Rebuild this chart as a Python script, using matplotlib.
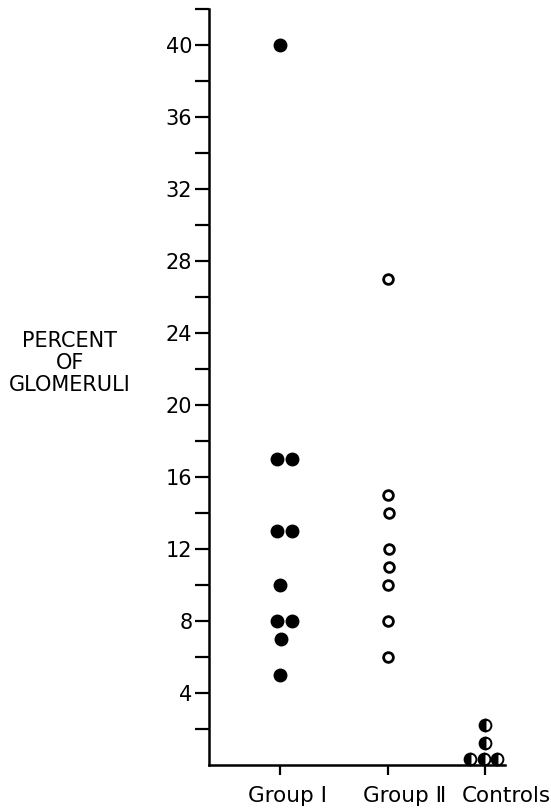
import matplotlib.pyplot as plt
import matplotlib.transforms as mtransforms

# values (percent of glomeruli)
group1_vals = [40, 17, 17, 13, 13, 10, 8, 8, 7, 5]
group1_dx = [0, -0.03, 0.11, -0.03, 0.11, 0, -0.03, 0.11, 0.01, 0]
group2_vals = [27, 15, 14, 12, 11, 10, 8, 6]
group2_dx = [0, 0, 0.01, 0.01, 0.01, 0, 0, 0]
control_vals = [2.2, 1.2, 0.35, 0.35, 0.35]
control_dx = [0, 0, -0.14, -0.01, 0.11]

group_pos = [1.0, 2.0, 2.9]
group_labels = ["Group \u2160", "Group \u2161", "Controls"]
label_shift = [8, 17, 21]  # px, labels sit right of the ticks in the original

plt.rcParams["font.family"] = ["DejaVu Sans"]

fig = plt.figure(figsize=(5.51, 8.08), dpi=100)
ax = fig.add_axes([209 / 551, 43 / 808, 296 / 551, 756 / 808])

ax.plot([group_pos[0] + d for d in group1_dx], group1_vals, "o",
        color="black", markersize=9, clip_on=False)
ax.plot([group_pos[1] + d for d in group2_dx], group2_vals, "o",
        markerfacecolor="white", markeredgecolor="black",
        markeredgewidth=2, markersize=7, clip_on=False)
ax.plot([group_pos[2] + d for d in control_dx], control_vals, "o",
        fillstyle="left", markerfacecolor="black", markerfacecoloralt="white",
        markeredgecolor="black", markeredgewidth=1.4, markersize=8.5, clip_on=False)

ax.set_xlim(0.343, 3.085)
ax.set_ylim(0, 42)

ax.set_yticks(range(4, 41, 4))
ax.set_yticks(range(2, 43, 2), minor=True)
ax.tick_params(axis="y", which="both", direction="out", length=10, width=1.6,
               labelsize=15, pad=2)
ax.set_xticks(group_pos)
ax.set_xticklabels(group_labels, fontsize=15.5)
ax.tick_params(axis="x", direction="out", length=7, width=1.6, pad=8)
for lab, s in zip(ax.get_xticklabels(), label_shift):
    lab.set_transform(lab.get_transform() +
                      mtransforms.ScaledTranslation(s / 100, 0, fig.dpi_scale_trans))

for side in ("top", "right"):
    ax.spines[side].set_visible(False)
for side in ("left", "bottom"):
    ax.spines[side].set_linewidth(1.8)

fig.text(70 / 551, 1 - 363 / 808, "PERCENT\nOF\nGLOMERULI", ha="center",
         va="center", fontsize=15, linespacing=1.15)

fig.savefig("out.png", dpi=100)
